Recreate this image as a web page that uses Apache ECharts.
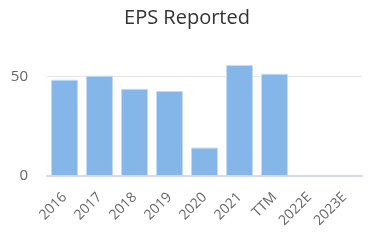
<!DOCTYPE html>
<html><head><meta charset="utf-8">
<script src="https://cdn.jsdelivr.net/npm/echarts@6/dist/echarts.min.js"></script>
<style>html,body{margin:0;padding:0;background:#fff}#c{width:374px;height:243px}</style>
</head><body><div id="c"></div>
<script>
const categories = ['2016','2017','2018','2019','2020','2021','TTM','2022E','2023E'];
const epsValues = [48.5, 50.5, 43.9, 42.8, 14.3, 55.9, 51.5, null, null];
const yTicks = [0, 50];

const chart = echarts.init(document.getElementById('c'), null, {renderer:'canvas'});
chart.setOption({
  animation:false,
  title:{text:'EPS Reported', left:'center', top:3,
    textStyle:{fontFamily:'Open Sans', fontSize:20, fontWeight:'normal', color:'#333'}},
  grid:{left:47, right:12, top:65, bottom:67},
  xAxis:{type:'category', data:categories,
    axisLine:{lineStyle:{color:'#d6dae9', width:2}},
    axisTick:{show:false},
    axisLabel:{rotate:45, interval:0, fontFamily:'Open Sans', fontSize:14, color:'#666', margin:19}},
  yAxis:{type:'value', min:0, max:'dataMax', interval:50,
    axisLabel:{fontFamily:'Open Sans', fontSize:15, color:'#666', margin:19,
      formatter:v=>yTicks.includes(v)?String(v):''},
    splitLine:{showMaxLine:false, lineStyle:{color:'#e6e6e6'}},
    axisLine:{show:false}, axisTick:{show:false}},
  series:[{type:'bar', data:epsValues, barWidth:'77%',
    itemStyle:{color:'#85b6e9', borderColor:'#c4dcf6', borderWidth:1}}]
});
</script></body></html>
